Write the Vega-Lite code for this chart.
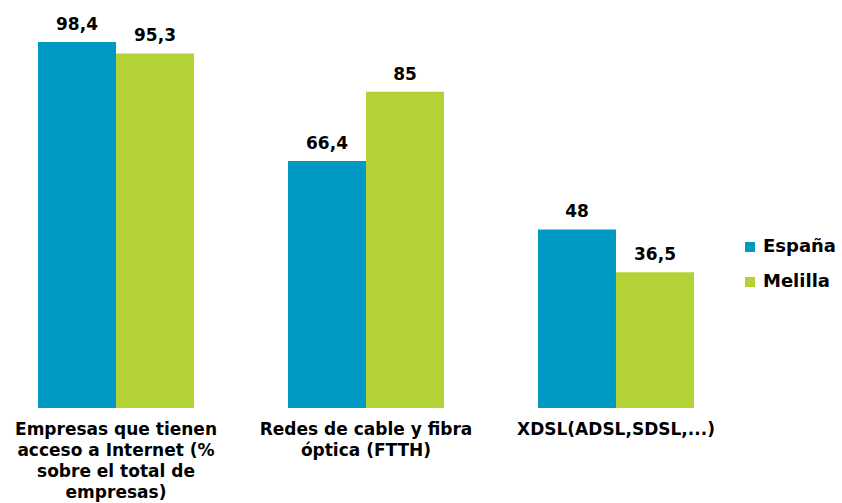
{
  "$schema": "https://vega.github.io/schema/vega-lite/v6.json",
  "autosize": {"type": "none"},
  "width": 732,
  "height": 372,
  "padding": {"left": 0, "top": 36, "right": 110, "bottom": 95},
  "background": "white",
  "config": {
    "view": {"stroke": null},
    "font": "DejaVu Sans",
    "locale": {"number": {"decimal": ",", "thousands": ".", "grouping": [3], "currency": ["", " €"]}}
  },
  "data": {
    "values": [
      {"cat": "Empresas que tienen acceso a Internet (% sobre el total de empresas)", "serie": "España", "valor": 98.4},
      {"cat": "Empresas que tienen acceso a Internet (% sobre el total de empresas)", "serie": "Melilla", "valor": 95.3},
      {"cat": "Redes de cable y fibra óptica (FTTH)", "serie": "España", "valor": 66.4},
      {"cat": "Redes de cable y fibra óptica (FTTH)", "serie": "Melilla", "valor": 85},
      {"cat": "XDSL(ADSL,SDSL,...)", "serie": "España", "valor": 48},
      {"cat": "XDSL(ADSL,SDSL,...)", "serie": "Melilla", "valor": 36.5}
    ]
  },
  "encoding": {
    "x": {
      "field": "cat", "type": "nominal", "sort": null,
      "scale": {"paddingInner": 0.376, "paddingOuter": 0.152},
      "axis": {
        "title": null, "domain": false, "ticks": false, "labelAngle": 0,
        "labelFont": "DejaVu Sans", "labelFontWeight": "bold", "labelFontSize": 17,
        "labelColor": "#000000", "labelBaseline": "top", "labelPadding": 13,
        "labelLineHeight": 21, "labelLimit": 300,
        "labelExpr": "datum.value == 'Empresas que tienen acceso a Internet (% sobre el total de empresas)' ? ['Empresas que tienen', 'acceso a Internet (%', 'sobre el total de', 'empresas)'] : datum.value == 'Redes de cable y fibra óptica (FTTH)' ? ['Redes de cable y fibra', 'óptica (FTTH)'] : datum.value"
      }
    },
    "xOffset": {"field": "serie", "type": "nominal", "scale": {"paddingInner": 0, "paddingOuter": 0}},
    "y": {
      "field": "valor", "type": "quantitative",
      "scale": {"domain": [0, 100], "nice": false},
      "axis": null
    }
  },
  "layer": [
    {
      "mark": {"type": "bar"},
      "encoding": {
        "color": {
          "field": "serie", "type": "nominal",
          "scale": {"domain": ["España", "Melilla"], "range": ["#0099C4", "#B3D235"]},
          "legend": {
            "title": null, "orient": "none", "legendX": 741, "legendY": 202,
            "symbolType": "square", "symbolSize": 100, "symbolStrokeWidth": 0,
            "labelFont": "DejaVu Sans", "labelFontWeight": "bold", "labelFontSize": 18,
            "labelColor": "#000000", "rowPadding": 17, "labelOffset": 4, "labelLimit": 200
          }
        }
      }
    },
    {
      "mark": {"type": "text", "baseline": "alphabetic", "dy": -12, "font": "DejaVu Sans", "fontWeight": "bold", "fontSize": 17, "color": "#000000"},
      "encoding": {
        "text": {"field": "valor", "type": "quantitative", "format": "~g"}
      }
    }
  ]
}
